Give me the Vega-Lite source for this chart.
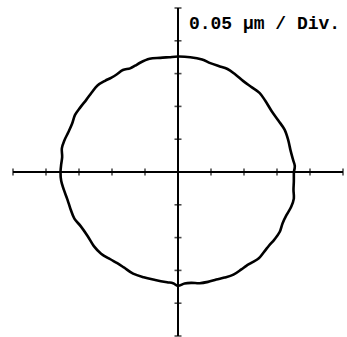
{
  "$schema": "https://vega.github.io/schema/vega-lite/v6.json",
  "width": 330,
  "height": 328,
  "autosize": {"type": "none"},
  "padding": {"left": 13, "top": 8, "right": 4, "bottom": 1},
  "background": "white",
  "config": {"view": {"stroke": null}},
  "datasets": {
    "profile": [
      {"i": 0, "x": 3.51, "y": 0}, {"i": 1, "x": 3.54, "y": 0.18}, {"i": 2, "x": 3.49, "y": 0.36},
      {"i": 3, "x": 3.41, "y": 0.66}, {"i": 4, "x": 3.34, "y": 0.97}, {"i": 5, "x": 3.23, "y": 1.29},
      {"i": 6, "x": 3.04, "y": 1.57}, {"i": 7, "x": 2.83, "y": 1.87}, {"i": 8, "x": 2.64, "y": 2.18},
      {"i": 9, "x": 2.47, "y": 2.41}, {"i": 10, "x": 2.24, "y": 2.58}, {"i": 11, "x": 1.98, "y": 2.77},
      {"i": 12, "x": 1.73, "y": 2.98}, {"i": 13, "x": 1.5, "y": 3.14}, {"i": 14, "x": 1.23, "y": 3.23},
      {"i": 15, "x": 0.98, "y": 3.32}, {"i": 16, "x": 0.73, "y": 3.43}, {"i": 17, "x": 0.37, "y": 3.5},
      {"i": 18, "x": 0, "y": 3.52}, {"i": 19, "x": -0.27, "y": 3.5}, {"i": 20, "x": -0.54, "y": 3.48},
      {"i": 21, "x": -0.86, "y": 3.45}, {"i": 22, "x": -1.15, "y": 3.33}, {"i": 23, "x": -1.3, "y": 3.24},
      {"i": 24, "x": -1.45, "y": 3.16}, {"i": 25, "x": -1.67, "y": 3.11}, {"i": 26, "x": -1.85, "y": 2.98},
      {"i": 27, "x": -2.03, "y": 2.87}, {"i": 28, "x": -2.21, "y": 2.78}, {"i": 29, "x": -2.44, "y": 2.64},
      {"i": 30, "x": -2.61, "y": 2.43}, {"i": 31, "x": -2.78, "y": 2.2}, {"i": 32, "x": -2.96, "y": 1.97},
      {"i": 33, "x": -3.12, "y": 1.74}, {"i": 34, "x": -3.21, "y": 1.47}, {"i": 35, "x": -3.32, "y": 1.22},
      {"i": 36, "x": -3.44, "y": 0.97}, {"i": 37, "x": -3.52, "y": 0.72}, {"i": 38, "x": -3.51, "y": 0.46},
      {"i": 39, "x": -3.54, "y": 0.23}, {"i": 40, "x": -3.56, "y": 0}, {"i": 41, "x": -3.54, "y": -0.27},
      {"i": 42, "x": -3.46, "y": -0.54}, {"i": 43, "x": -3.35, "y": -0.84}, {"i": 44, "x": -3.25, "y": -1.15},
      {"i": 45, "x": -3.14, "y": -1.42}, {"i": 46, "x": -2.95, "y": -1.65}, {"i": 47, "x": -2.74, "y": -1.95},
      {"i": 48, "x": -2.55, "y": -2.26}, {"i": 49, "x": -2.33, "y": -2.49}, {"i": 50, "x": -2.05, "y": -2.66},
      {"i": 51, "x": -1.84, "y": -2.78}, {"i": 52, "x": -1.64, "y": -2.91}, {"i": 53, "x": -1.36, "y": -3.1},
      {"i": 54, "x": -1.04, "y": -3.21}, {"i": 55, "x": -0.69, "y": -3.29}, {"i": 56, "x": -0.33, "y": -3.36},
      {"i": 57, "x": -0.15, "y": -3.39}, {"i": 58, "x": 0, "y": -3.47}, {"i": 59, "x": 0.2, "y": -3.4},
      {"i": 60, "x": 0.4, "y": -3.38}, {"i": 61, "x": 0.66, "y": -3.39}, {"i": 62, "x": 0.91, "y": -3.35},
      {"i": 63, "x": 1.16, "y": -3.28}, {"i": 64, "x": 1.41, "y": -3.22}, {"i": 65, "x": 1.68, "y": -3.13},
      {"i": 66, "x": 1.92, "y": -2.97}, {"i": 67, "x": 2.07, "y": -2.86}, {"i": 68, "x": 2.22, "y": -2.77},
      {"i": 69, "x": 2.45, "y": -2.63}, {"i": 70, "x": 2.62, "y": -2.42}, {"i": 71, "x": 2.76, "y": -2.24},
      {"i": 72, "x": 2.92, "y": -2.06}, {"i": 73, "x": 3.08, "y": -1.83}, {"i": 74, "x": 3.17, "y": -1.56},
      {"i": 75, "x": 3.29, "y": -1.31}, {"i": 76, "x": 3.43, "y": -1.06}, {"i": 77, "x": 3.51, "y": -0.81},
      {"i": 78, "x": 3.5, "y": -0.55}, {"i": 79, "x": 3.51, "y": -0.28}, {"i": 80, "x": 3.51, "y": 0}
    ],
    "divisions": [
      {"v": -5}, {"v": -4}, {"v": -3}, {"v": -2}, {"v": -1}, {"v": 0},
      {"v": 1}, {"v": 2}, {"v": 3}, {"v": 4}, {"v": 5}
    ],
    "scaleNote": [{"label": "0.05 µm / Div."}]
  },
  "layer": [
    {
      "data": {"name": "divisions"},
      "mark": {"type": "rule", "color": "black", "strokeWidth": 2},
      "encoding": {
        "x": {"datum": -5, "type": "quantitative", "scale": {"domain": [-5, 5], "nice": false, "zero": false}, "axis": null},
        "x2": {"datum": 5},
        "y": {"datum": 0, "type": "quantitative", "scale": {"domain": [-5, 5], "nice": false, "zero": false}, "axis": null}
      }
    },
    {
      "data": {"name": "divisions"},
      "mark": {"type": "rule", "color": "black", "strokeWidth": 2},
      "encoding": {
        "x": {"datum": 0, "type": "quantitative"},
        "y": {"datum": -5, "type": "quantitative"},
        "y2": {"datum": 5}
      }
    },
    {
      "data": {"name": "divisions"},
      "mark": {"type": "tick", "orient": "vertical", "color": "black", "size": 7, "thickness": 1.6},
      "encoding": {
        "x": {"field": "v", "type": "quantitative"},
        "y": {"datum": 0, "type": "quantitative"}
      }
    },
    {
      "data": {"name": "divisions"},
      "mark": {"type": "tick", "orient": "horizontal", "color": "black", "size": 7, "thickness": 1.6},
      "encoding": {
        "y": {"field": "v", "type": "quantitative"},
        "x": {"datum": 0, "type": "quantitative"}
      }
    },
    {
      "data": {"name": "profile"},
      "mark": {"type": "line", "interpolate": "catmull-rom", "color": "black", "strokeWidth": 2.6, "strokeJoin": "round", "strokeCap": "round"},
      "encoding": {
        "x": {"field": "x", "type": "quantitative"},
        "y": {"field": "y", "type": "quantitative"},
        "order": {"field": "i", "type": "quantitative"}
      }
    },
    {
      "data": {"name": "scaleNote"},
      "mark": {"type": "text", "font": "Liberation Mono", "fontSize": 18, "fontWeight": "bold", "align": "left", "baseline": "alphabetic", "color": "black"},
      "encoding": {
        "x": {"datum": 0.33, "type": "quantitative"},
        "y": {"datum": 4.37, "type": "quantitative"},
        "text": {"field": "label"}
      }
    }
  ]
}
